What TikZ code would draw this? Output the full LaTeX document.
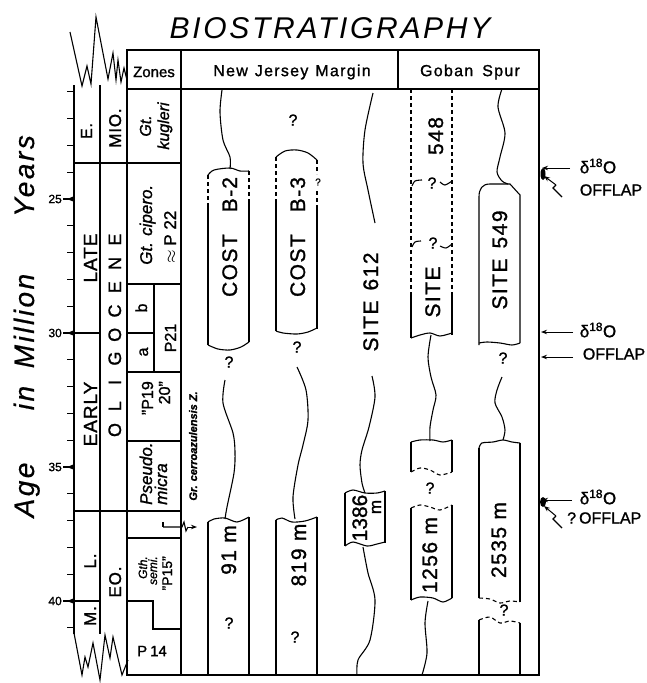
\documentclass[tikz,border=0pt]{standalone}
\usepackage{fontspec}
\setmainfont[FakeBold=1.2]{Liberation Sans}
\newfontfamily\wfont[LetterSpace=7,FakeBold=1.2]{Liberation Sans}
\newfontfamily\tfont[LetterSpace=5,FakeBold=1.2]{Liberation Sans}
\newfontfamily\hfont[LetterSpace=8,FakeBold=1.2]{Liberation Sans}
\newfontfamily\titlefont[LetterSpace=9]{Liberation Sans}
\newfontfamily\agefont[LetterSpace=9,FakeBold=0.6]{Liberation Sans}
\usetikzlibrary{arrows.meta}
\begin{document}
\begin{tikzpicture}[x=1pt,y=-1pt,
  frame/.style={line width=1.5pt},
  thin/.style={line width=1.1pt},
  dsh/.style={line width=1.1pt, dash pattern=on 4pt off 3pt},
  lab/.style={inner sep=0pt},
  vlab/.style={inner sep=0pt, rotate=90},
  q/.style={inner sep=0pt, font=\fontsize{16}{16}\selectfont},
  wl/.style={inner sep=0pt, rotate=90, anchor=base, font=\wfont\fontsize{21}{21}\selectfont},
  tip/.style={-{Stealth[length=6pt,width=4.5pt]}, line width=1pt},
  ep/.style={inner sep=0pt, rotate=90, anchor=base, font=\tfont\fontsize{19}{19}\selectfont},
  zn/.style={inner sep=0pt, rotate=90, font=\fontsize{16}{16}\selectfont\itshape},
  zu/.style={inner sep=0pt, rotate=90, font=\fontsize{16}{16}\selectfont},
  rl/.style={inner sep=0pt, font=\fontsize{16}{16}\selectfont},
  ag/.style={inner sep=0pt, rotate=90, anchor=base, font=\agefont\fontsize{28}{28}\selectfont\itshape},
]
\useasboundingbox (0,0) rectangle (647,683);

% ---------- title and axis label
\node[lab, anchor=base, font=\titlefont\fontsize{30}{30}\selectfont\itshape] (title) at (330,38) {BIOSTRATIGRAPHY};
\node[ag] (wAge) at (34,490) {Age};
\node[ag] (wIn) at (34,398) {in};
\node[ag] (wMil) at (34,321) {Million};
\node[ag] (wYrs) at (34,176) {Years};

% ---------- frame
\draw[frame] (127,50) -- (539,50) -- (539,675) -- (127,675) -- cycle;
\draw[frame] (181,50) -- (181,675);
\draw[frame] (398,50) -- (398,89);
\draw[frame] (127,89) -- (539,89);
\node[lab, font=\fontsize{15}{15}\selectfont] (hz) at (154,72) {Zones};
\node[lab, font=\hfont\fontsize{16}{16}\selectfont] (hnj) at (292,72) {New\hspace{7pt}Jersey\hspace{7pt}Margin};
\node[lab, font=\hfont\fontsize{16}{16}\selectfont] (hgs) at (470,72) {Goban\hspace{9pt}Spur};

% ---------- left columns
\draw[frame] (74,85) -- (74,634);
\draw[frame] (100,85) -- (100,634);
\draw[frame] (74,163) -- (181,163);
\draw[frame] (74,333) -- (100,333);
\draw[frame] (127,284) -- (181,284);
\draw[frame] (154,284) -- (154,372);
\draw[frame] (127,333) -- (154,333);
\draw[frame] (127,372) -- (181,372);
\draw[frame] (127,441) -- (181,441);
\draw[frame] (74,511) -- (181,511);
\draw[frame] (127,538) -- (181,538);
\draw[frame] (74,601) -- (100,601);
\draw[frame] (127,601) -- (153,601) -- (153,629) -- (181,629);
\draw[thin] (70,32) -- (82,86) -- (87,66) -- (91,84) -- (96,17) -- (108,79) -- (113,53) -- (116,80) -- (118,60) -- (121,82) -- (124,68) -- (127,80);
\draw[thin] (74,633) -- (82,675) -- (85,657) -- (88,667) -- (93,643) -- (100,680) -- (105,635) -- (110,658) -- (113,637) -- (122,675) -- (128,660);

% ticks
\foreach \a in {21,...,41} {
  \draw[thin] (67,{199+(\a-25)*26.8}) -- (74,{199+(\a-25)*26.8});
}
\foreach \a in {25,30,35,40} {
  \draw[thin] (63,{199+(\a-25)*26.8}) -- (74,{199+(\a-25)*26.8});
  \fill (74,{199+(\a-25)*26.8-2.8}) -- (74,{199+(\a-25)*26.8+2.8}) -- (67,{199+(\a-25)*26.8}) -- cycle;
  \node[lab, anchor=east, font=\fontsize{12}{12}\selectfont] (n\a) at (62,{199+(\a-25)*26.8}) {\a};
}

% epoch / series labels
\node[ep, font=\tfont\fontsize{16}{16}\selectfont] (eE) at (92,131) {E.};
\node[ep, font=\tfont\fontsize{17}{17}\selectfont] (eMio) at (121,128) {MIO.};
\node[ep] (eLate) at (97,258) {LATE};
\node[ep] (eEarly) at (97,414) {EARLY};
\node[ep, font=\tfont\fontsize{17}{17}\selectfont] (eL) at (96,561) {L.};
\node[ep, font=\tfont\fontsize{17}{17}\selectfont] (eM) at (96,616) {M.};
\node[ep, font=\tfont\fontsize{17}{17}\selectfont] (eEo) at (121,582) {EO.};
\foreach \l [count=\i from 0] in {O,L,I,G,O,C,E,N,E} {
  \node[ep, font=\fontsize{18}{18}\selectfont] (ol\i) at (121,{430-\i*23.8}) {\l};
}

% zones
\node[zn, anchor=base] (zGt) at (151,126) {Gt.};
\node[zn, anchor=base] (zKug) at (169,126) {kugleri};
\node[zn, anchor=base west, font=\fontsize{17}{17}\selectfont\itshape] (zCip) at (152,265) {Gt. cipero.};
\node[zu, anchor=base west, font=\fontsize{17}{17}\selectfont] (zP22) at (176,264) {$\approx$ P 22};
\node[zu, anchor=base] (zb) at (147,308) {b};
\node[zu, anchor=base] (za) at (148,352) {a};
\node[zu, anchor=base] (zP21) at (176,338) {P21};
\node[zu, anchor=base east] (zP19) at (153,381) {"P19};
\node[zu, anchor=base east] (z20) at (170,381) {20"};
\node[zn, anchor=base west, font=\fontsize{17}{17}\selectfont\itshape] (zPs) at (152,505) {Pseudo.};
\node[zn, anchor=base west, font=\fontsize{17}{17}\selectfont\itshape] (zMi) at (167,505) {micra};
\node[zn, anchor=base east, font=\fontsize{12}{12}\selectfont\itshape] (zGth) at (147,556) {Gth.};
\node[zn, anchor=base east, font=\fontsize{12}{12}\selectfont\itshape] (zSemi) at (157,556) {semi.};
\node[zu, anchor=base east, font=\fontsize{14}{14}\selectfont] (zP15) at (172,556) {"P15"};
\node[lab, font=\fontsize{15}{15}\selectfont] (zP14) at (152,651) {P\hspace{3pt}14};
\node[zn, anchor=base, font=\fontsize{11}{11}\selectfont\bfseries\itshape] (zGr) at (197,446) {Gr. cerroazulensis Z.};
\draw[thin] (163,522) -- (163,527);
\coordinate (grA) at (163,527);
\coordinate (grB) at (197,527);
\draw[thin] (grA) -- (182,527) -- (184,522) -- (186,531) -- (188,527);
\draw[tip] (188,527) -- (grB);

% ---------- COST B-2
\draw[thin] plot[smooth] coordinates {(222,90) (220,112) (223,140) (230,157) (230,169)};
\draw[thin] plot[smooth] coordinates {(208,175) (214,170) (230,168) (240,171) (249,171)};
\draw[dsh] (208,175) -- (208,205);
\draw[thin] (208,205) -- (208,345);
\draw[dsh] (249,171) -- (249,203);
\draw[thin] (249,203) -- (249,342);
\draw[thin] plot[smooth] coordinates {(208,345) (218,349) (230,350) (241,347) (249,342)};
\node[wl] (tB2) at (237,237) {COST\hspace{22pt}B-\hspace{1pt}2};
\node[q] (q1) at (229,362) {?};
\draw[thin] plot[smooth] coordinates {(225,380) (223,403) (233,433) (235,452) (234,473) (227,507) (225,519)};
% 91 m
\draw[thin] plot[smooth] coordinates {(208,522) (214,519) (225,518) (237,522) (249,517)};
\draw[thin] (208,522) -- (208,675);
\draw[thin] (249,517) -- (249,675);
\node[wl] (t91) at (236,550) {91 m};
\node[q] (q2) at (229,623) {?};

% ---------- COST B-3
\node[q] (q3) at (293,120) {?};
\draw[thin] plot[smooth] coordinates {(276,157) (285,151) (297,150) (308,153) (317,160)};
\draw[dsh] (276,157) -- (276,200);
\draw[thin] (276,200) -- (276,331);
\draw[dsh] (317,160) -- (317,174);
\node[q, font=\fontsize{10}{10}\selectfont] (q4) at (318,182) {?};
\draw[dsh] (317,191) -- (317,207);
\draw[thin] (317,207) -- (317,329);
\draw[thin] plot[smooth] coordinates {(276,331) (283,333) (297,334) (308,332) (317,328)};
\node[wl] (tB3) at (305,237) {COST\hspace{22pt}B-\hspace{1pt}3};
\node[q] (q5) at (297,347) {?};
\draw[thin] plot[smooth] coordinates {(297,367) (306,390) (308,420) (303,445) (298,465) (293,497) (295,519)};
% 819 m
\draw[thin] plot[smooth] coordinates {(276,520) (282,518) (292,522) (305,521) (317,517)};
\draw[thin] (276,520) -- (276,675);
\draw[thin] (317,517) -- (317,675);
\node[wl] (t819) at (306,555) {819 m};
\node[q] (q6) at (295,637) {?};

% ---------- SITE 612
\draw[thin] plot[smooth] coordinates {(373,93) (365,130) (363,163) (368,190) (375,223)};
\node[wl] (t612) at (378,302) {SITE\hspace{10pt}612};
\draw[thin] plot[smooth] coordinates {(372,376) (375,397) (369,427) (362,450) (360,465) (362,483) (365,493)};
\draw[thin] plot[smooth] coordinates {(345,493) (353,490) (365,493) (377,493) (385,491)};
\draw[thin] (345,493) -- (345,546);
\draw[thin] (385,491) -- (385,543);
\draw[thin] plot[smooth] coordinates {(345,546) (353,542) (367,546) (377,544) (385,542)};
\node[wl, font=\fontsize{21}{21}\selectfont] (t1386) at (367,518) {1386};
\node[wl, font=\fontsize{17}{17}\selectfont] (t1386m) at (381,507) {m};
\draw[thin] plot[smooth] coordinates {(363,547) (368,573) (375,600) (370,640) (358,660) (357,675)};

% ---------- SITE 548
\draw[dsh] (411,89) -- (411,293);
\draw[thin] (411,293) -- (411,338);
\draw[dsh] (452,89) -- (452,296);
\draw[thin] (452,296) -- (452,335);
\node[wl] (t548) at (443,136) {548};
\draw[thin] plot[smooth] coordinates {(412,186) (415,181) (422,180)};
\draw[thin] plot[smooth] coordinates {(440,182) (445,185) (452,181)};
\node[q] (q7) at (432,183) {?};
\draw[thin] plot[smooth] coordinates {(412,247) (415,242) (421,241)};
\draw[thin] plot[smooth] coordinates {(440,246) (446,248) (452,244)};
\node[q] (q8) at (433,243) {?};
\node[wl] (t548s) at (440,292) {SITE};
\draw[thin] plot[smooth] coordinates {(411,338) (420,335) (430,333) (440,336) (452,333)};
\draw[thin] plot[smooth] coordinates {(431,335) (428,357) (431,377) (436,395) (433,410) (430,427) (430,441)};
\draw[thin] plot[smooth] coordinates {(411,442) (420,440) (433,440) (443,442) (452,440)};
\draw[thin] (411,442) -- (411,472);
\draw[thin] (452,440) -- (452,472);
\draw[dsh] plot[smooth] coordinates {(411,472) (420,468) (430,470) (440,475) (452,472)};
\node[q] (q9) at (430,488) {?};
\draw[dsh] plot[smooth] coordinates {(411,508) (420,505) (430,507) (440,510) (452,505)};
\draw[thin] (411,508) -- (411,600);
\draw[thin] (452,505) -- (452,598);
\draw[thin] plot[smooth] coordinates {(411,600) (420,597) (433,598) (443,602) (452,598)};
\node[wl] (t1256) at (437,555) {1256 m};
\draw[thin] plot[smooth] coordinates {(428,601) (425,623) (427,653) (422,675)};

% ---------- SITE 549
\draw[thin] plot[smooth] coordinates {(502,89) (498,107) (505,133) (500,157) (497,172) (502,181) (508,184)};
\draw[thin] (479,345) -- (479,197) .. controls (479,189) and (482,184) .. (490,184) -- (510,184) -- (520,195) -- (520,343);
\draw[thin] plot[smooth] coordinates {(479,343) (487,342) (500,343) (512,345) (520,343)};
\node[wl] (t549) at (507,260) {SITE\hspace{10pt}549};
\node[q] (q10) at (503,358) {?};
\draw[thin] plot[smooth] coordinates {(502,377) (497,390) (495,403) (502,417) (505,430) (503,440)};
\draw[thin] plot[smooth] coordinates {(479,448) (482,443) (493,442) (503,440) (512,442) (520,443)};
\draw[thin] (479,448) -- (479,598);
\draw[thin] (520,443) -- (520,602);
\draw[dsh] plot[smooth] coordinates {(479,598) (490,599) (500,603) (510,601) (520,602)};
\node[q] (q11) at (504,610) {?};
\draw[dsh] plot[smooth] coordinates {(479,620) (490,617) (500,623) (510,621) (520,623)};
\draw[thin] (479,620) -- (479,675);
\draw[thin] (520,623) -- (520,675);
\node[wl] (t2535) at (506,540) {2535 m};

% ---------- right annotations
\node[rl, font=\fontsize{17}{17}\selectfont] (d1) at (598,166) {δ$^{\mathrm{18}}$O};
\node[rl] (o1) at (611,190) {OFFLAP};
\coordinate (a1s) at (570,168);
\coordinate (a1e) at (542,168);
\draw[tip] (a1s) -- (a1e);
\fill (543,174) ellipse [x radius=2.5pt, y radius=6pt];
\draw[thin] (562,197) -- (553,188) -- (556,185);
\draw[tip] (556,185) -- (544,176);

\node[rl, font=\fontsize{17}{17}\selectfont] (d2) at (598,330) {δ$^{\mathrm{18}}$O};
\coordinate (a2s) at (573,332);
\coordinate (a2e) at (541,332);
\draw[tip] (a2s) -- (a2e);
\node[rl] (o2) at (614,354) {OFFLAP};
\coordinate (a3s) at (573,357);
\coordinate (a3e) at (541,357);
\draw[tip] (a3s) -- (a3e);

\node[rl, font=\fontsize{17}{17}\selectfont] (d3) at (598,497) {δ$^{\mathrm{18}}$O};
\coordinate (a4s) at (572,500);
\coordinate (a4e) at (542,500);
\draw[tip] (a4s) -- (a4e);
\fill (543,502) ellipse [x radius=3pt, y radius=5pt];
\node[rl, anchor=west] (o3) at (567,518) {?\hspace{3pt}OFFLAP};
\draw[thin] (562,528) -- (553,519) -- (556,516);
\draw[tip] (556,516) -- (544,506);
\end{tikzpicture}
\end{document}
